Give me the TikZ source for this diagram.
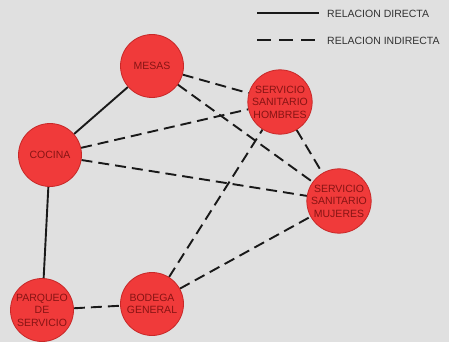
\documentclass[tikz,border=0pt]{standalone}
\usepackage{fontspec}
\setmainfont{Liberation Sans}
\usetikzlibrary{backgrounds}
\definecolor{bg}{RGB}{224,224,224}
\definecolor{cfill}{RGB}{240,58,58}
\definecolor{cdraw}{RGB}{200,40,40}
\definecolor{ctext}{RGB}{135,20,20}
\definecolor{ltext}{RGB}{50,50,50}
\begin{document}
\begin{tikzpicture}[x=1pt,y=-1pt,
  area/.style={circle,fill=cfill,draw=cdraw,line width=0.8pt,minimum size=63pt,inner sep=0pt,
    text=ctext,font=\fontsize{10.5}{12.5}\selectfont,align=center},
  direct/.style={line width=1.9pt,black!90},
  indirect/.style={line width=1.9pt,black!90,dash pattern=on 11pt off 6pt},
  legtext/.style={anchor=west,text=ltext,font=\fontsize{10.5}{12}\selectfont,inner sep=0pt}]
\useasboundingbox (0,0) rectangle (449,342);
% nodes
\node[area] (mesas) at (152,66) {MESAS};
\node[area] (hombres) at (280,102) {SERVICIO\\SANITARIO\\HOMBRES};
\node[area] (mujeres) at (339,201) {SERVICIO\\SANITARIO\\MUJERES};
\node[area] (cocina) at (50,155) {COCINA};
\node[area] (parqueo) at (42,310) {PARQUEO\\DE\\SERVICIO};
\node[area] (bodega) at (152,304) {BODEGA\\GENERAL};
% legend
\coordinate (l1a) at (257,13);
\coordinate (l1b) at (319,13);
\coordinate (l2a) at (257,40);
\coordinate (l2b) at (319,40);
\draw[direct] (l1a) -- (l1b);
\draw[indirect,dash pattern=on 14pt off 8pt] (l2a) -- (l2b);
\node[legtext] (ld) at (327,13.5) {RELACION DIRECTA};
\node[legtext] (li) at (327,40.5) {RELACION INDIRECTA};
% background and connectors
\begin{scope}[on background layer]
\fill[bg] (0,0) rectangle (449,342);
\draw[direct] (cocina) -- (mesas);
\draw[direct] (cocina) -- (parqueo);
\draw[indirect] (mesas) -- (hombres);
\draw[indirect] (mesas) -- (mujeres);
\draw[indirect] (hombres) -- (mujeres);
\draw[indirect] (cocina) -- (hombres);
\draw[indirect] (cocina) -- (mujeres);
\draw[indirect] (parqueo) -- (bodega);
\draw[indirect] (bodega) -- (hombres);
\draw[indirect] (bodega) -- (mujeres);
\end{scope}
\end{tikzpicture}
\end{document}
